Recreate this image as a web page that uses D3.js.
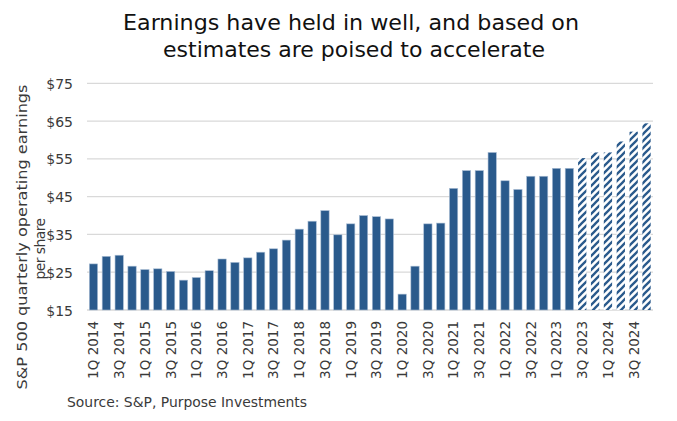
<!DOCTYPE html>
<html>
<head>
<meta charset="utf-8">
<script src="https://cdn.jsdelivr.net/npm/d3@7"></script>
<style>
  body { margin: 0; background: #fff; }
  text { font-family: "DejaVu Sans", sans-serif; }
</style>
</head>
<body>
<div id="chart"></div>
<script>
// quarters 1Q 2014 .. 4Q 2024
var quarters = [];
d3.range(2014, 2025).forEach(function(y) {
    [1, 2, 3, 4].forEach(function(q) { quarters.push(q + "Q " + y); });
});

// S&P 500 quarterly operating EPS (last six are estimates)
var eps = [27.2, 29.2, 29.5, 26.6, 25.7, 25.9, 25.2, 22.9, 23.6, 25.4, 28.5, 27.6,
           28.8, 30.3, 31.2, 33.5, 36.4, 38.5, 41.3, 34.9, 37.8, 40.0, 39.7, 39.1,
           19.2, 26.6, 37.8, 38.0, 47.2, 51.9, 51.9, 56.7, 49.2, 46.9, 50.4, 50.4,
           52.5, 52.5, 55.2, 56.7, 56.7, 59.6, 62.2, 64.4];
var firstEstimate = "3Q 2023";

var yTicks = [15, 25, 35, 45, 55, 65, 75];
var xTickLabels = quarters.filter(function(d, i) { return i % 2 === 0; });

var title = ["Earnings have held in well, and based on", "estimates are poised to accelerate"];
var yTitle = ["S&P 500 quarterly operating earnings", "per share"];
var source = "Source: S&P, Purpose Investments";

var width = 677, height = 421;
var barColor = "#2a5a8c";
var textColor = "#3a3a3a";

var svg = d3.select("#chart").append("svg")
    .attr("width", width)
    .attr("height", height);

//hatch pattern for estimates: 45deg stripes, bar edges cut them into dashes
var defs = svg.append("defs");
var pat = defs.append("pattern")
    .attr("id", "hatch")
    .attr("patternUnits", "userSpaceOnUse")
    .attr("width", 7)
    .attr("height", 7);
pat.append("rect").attr("width", 7).attr("height", 7).attr("fill", "#fff");
pat.append("path")
    .attr("d", "M0,7 L7,0 M-2,2 L2,-2 M5,9 L9,5")
    .attr("stroke", barColor)
    .attr("stroke-width", 2.3);

var x = d3.scaleBand()
    .domain(quarters)
    .range([87, 653])
    .paddingInner(0.355)
    .paddingOuter(0.18);

var y = d3.scaleLinear()
    .domain([15, 75])
    .range([310, 83.3]);

//gridlines
svg.append("g").selectAll("line")
    .data(yTicks)
    .enter().append("line")
    .attr("x1", 87).attr("x2", 653)
    .attr("y1", function(d) { return y(d); })
    .attr("y2", function(d) { return y(d); })
    .attr("stroke", "#d9d9d9")
    .attr("stroke-width", 1.3);

//y axis labels
var yAxis = d3.axisLeft(y).tickValues(yTicks).tickSize(0).tickPadding(0)
    .tickFormat(function(d) { return "$" + d; });
var yg = svg.append("g").attr("transform", "translate(73,0)").call(yAxis);
yg.select(".domain").remove();
yg.selectAll("text")
    .style("font-family", "'DejaVu Sans', sans-serif")
    .style("font-size", "14px")
    .attr("fill", textColor)
    .attr("dy", "0.36em");

//bars
var estIndex = quarters.indexOf(firstEstimate);
svg.append("g").selectAll("rect")
    .data(eps)
    .enter().append("rect")
    .attr("x", function(d, i) { return x(quarters[i]); })
    .attr("width", x.bandwidth())
    .attr("y", function(d) { return y(d); })
    .attr("height", function(d) { return y(15) - y(d); })
    .attr("fill", function(d, i) { return i >= estIndex ? "url(#hatch)" : barColor; })
    .attr("stroke", function(d, i) { return i >= estIndex ? "none" : "#a9bdd4"; })
    .attr("stroke-width", 0.6);

//x labels
var xAxis = d3.axisBottom(x).tickValues(xTickLabels).tickSize(0).tickPadding(0);
var xg = svg.append("g").attr("transform", "translate(0,321)").call(xAxis);
xg.select(".domain").remove();
xg.selectAll("text")
    .style("font-family", "'DejaVu Sans', sans-serif")
    .style("font-size", "13.5px")
    .attr("fill", textColor)
    .attr("text-anchor", "end")
    .attr("transform", "rotate(-90)")
    .attr("x", 0)
    .attr("y", 0)
    .attr("dy", "0.36em");

//title
var titleW = [456, 382];
svg.append("g").selectAll("text")
    .data(title)
    .enter().append("text")
    .attr("x", function(d, i) { return i ? 354 : 351; })
    .attr("y", function(d, i) { return 30 + i * 27; })
    .attr("text-anchor", "middle")
    .attr("textLength", function(d, i) { return titleW[i]; })
    .attr("lengthAdjust", "spacingAndGlyphs")
    .style("font-size", "21px")
    .attr("fill", "#111")
    .text(function(d) { return d; });

//y axis title (two wrapped lines)
svg.append("text")
    .attr("transform", "translate(22,237) rotate(-90)")
    .attr("text-anchor", "middle")
    .attr("dy", "0.35em")
    .attr("textLength", 305)
    .attr("lengthAdjust", "spacingAndGlyphs")
    .style("font-size", "14px")
    .attr("fill", textColor)
    .text(yTitle[0]);

svg.append("text")
    .attr("transform", "translate(40,249) rotate(-90)")
    .attr("text-anchor", "middle")
    .attr("dy", "0.35em")
    .style("font-size", "14px")
    .style("letter-spacing", "-0.6px")
    .attr("fill", textColor)
    .text(yTitle[1]);

//source
svg.append("text")
    .attr("x", 67)
    .attr("y", 407)
    .attr("textLength", 240)
    .attr("lengthAdjust", "spacingAndGlyphs")
    .style("font-size", "13.5px")
    .attr("fill", textColor)
    .text(source);
</script>
</body>
</html>
